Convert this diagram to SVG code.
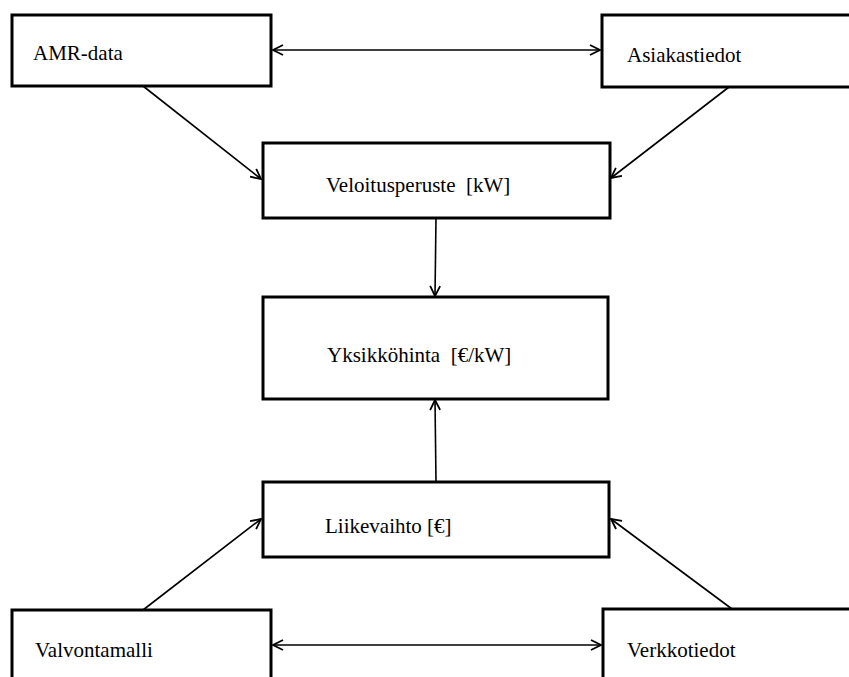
<svg xmlns="http://www.w3.org/2000/svg" width="849" height="677" viewBox="0 0 849 677">
  <style>
    .box { fill: #fff; stroke: #000; stroke-width: 3; }
    .lbl { font-family: 'Liberation Serif', 'Times New Roman', 'DejaVu Serif', serif; font-size: 21px; fill: #000; white-space: pre; }
    .conn { stroke: #000; stroke-width: 1.6; fill: none; }
  </style>
  <defs>
    <marker id="arrow" viewBox="0 0 12 12" refX="11" refY="6" markerWidth="12" markerHeight="12" markerUnits="userSpaceOnUse" orient="auto-start-reverse">
      <path d="M1,1 L11,6 L1,11" fill="none" stroke="#000" stroke-width="1.8"/>
    </marker>
  </defs>

  <g id="connectors">
    <line class="conn" x1="273" y1="50" x2="600" y2="50" marker-start="url(#arrow)" marker-end="url(#arrow)"/>
    <line class="conn" x1="143" y1="86" x2="261" y2="179" marker-end="url(#arrow)"/>
    <line class="conn" x1="729" y1="87" x2="611" y2="178" marker-end="url(#arrow)"/>
    <line class="conn" x1="436" y1="218" x2="435" y2="296" marker-end="url(#arrow)"/>
    <line class="conn" x1="436" y1="482" x2="435" y2="400" marker-end="url(#arrow)"/>
    <line class="conn" x1="143" y1="610" x2="261" y2="519" marker-end="url(#arrow)"/>
    <line class="conn" x1="732" y1="609" x2="611" y2="519" marker-end="url(#arrow)"/>
    <line class="conn" x1="273" y1="645" x2="601" y2="645" marker-start="url(#arrow)" marker-end="url(#arrow)"/>
  </g>

  <g id="amr-data">
    <rect class="box" x="12" y="15" width="259" height="71"/>
    <text class="lbl" x="33" y="60" font-family="Liberation Serif, serif">AMR-data</text>
  </g>
  <g id="asiakastiedot">
    <rect class="box" x="602" y="15" width="260" height="72"/>
    <text class="lbl" x="627" y="62" font-family="Liberation Serif, serif">Asiakastiedot</text>
  </g>
  <g id="veloitusperuste">
    <rect class="box" x="263" y="143" width="347" height="75"/>
    <text class="lbl" x="326" y="192" font-family="Liberation Serif, serif">Veloitusperuste  [kW]</text>
  </g>
  <g id="yksikkohinta">
    <rect class="box" x="263" y="297" width="345" height="102"/>
    <text class="lbl" x="327" y="362" font-family="Liberation Serif, serif">Yksikköhinta  [€/kW]</text>
  </g>
  <g id="liikevaihto">
    <rect class="box" x="263" y="482" width="346" height="75"/>
    <text class="lbl" x="325" y="533" font-family="Liberation Serif, serif">Liikevaihto [€]</text>
  </g>
  <g id="valvontamalli">
    <rect class="box" x="12" y="610" width="259" height="90"/>
    <text class="lbl" x="35" y="657" font-family="Liberation Serif, serif">Valvontamalli</text>
  </g>
  <g id="verkkotiedot">
    <rect class="box" x="603" y="609" width="260" height="90"/>
    <text class="lbl" x="627" y="657" font-family="Liberation Serif, serif">Verkkotiedot</text>
  </g>
</svg>
